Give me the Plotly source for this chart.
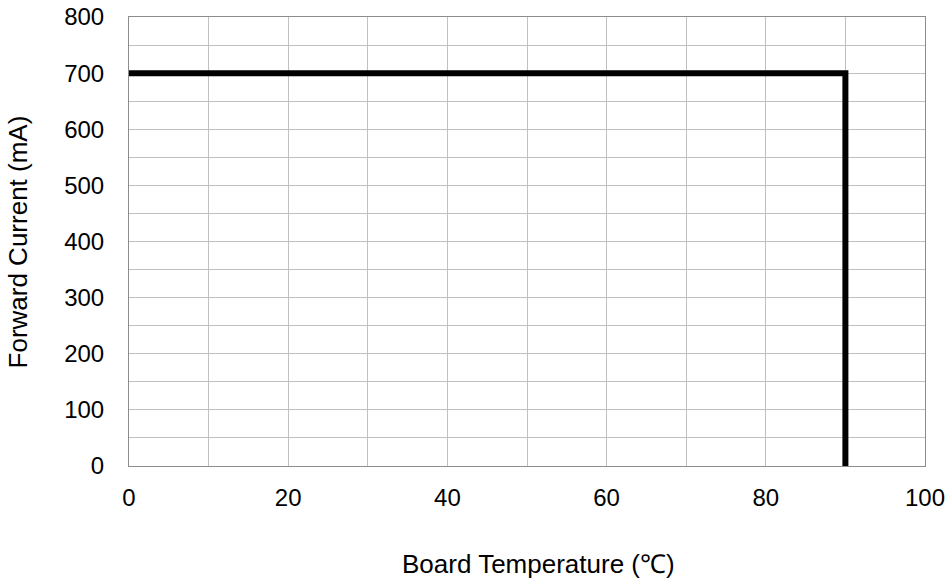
import plotly.graph_objects as go

temperature = [0, 90, 90]
current = [700, 700, 0]
x_ticks = [0, 20, 40, 60, 80, 100]
y_ticks = [0, 100, 200, 300, 400, 500, 600, 700, 800]
x_title = "Board Temperature (℃)"
y_title = "Forward Current (mA)"

fig = go.Figure()
fig.add_trace(go.Scatter(x=temperature, y=current, mode="lines",
                         line=dict(color="black", width=6), cliponaxis=False,
                         showlegend=False, hoverinfo="skip"))

tick_font = dict(family="Liberation Sans, Arial, sans-serif", size=24, color="black")
title_font = dict(family="Liberation Sans, Arial, sans-serif", size=26, color="black")
fig.update_layout(
    width=952, height=579,
    margin=dict(l=129, r=27, t=17, b=113, autoexpand=False),
    plot_bgcolor="white", paper_bgcolor="white",
    font=tick_font,
    xaxis=dict(range=[0, 100], tickvals=x_ticks, ticks="", showgrid=True,
               gridcolor="#c0c0c0", gridwidth=1, tickfont=tick_font,
               ticklabelstandoff=10, ticklabeloverflow="allow",
               minor=dict(dtick=10, showgrid=True, gridcolor="#c0c0c0", gridwidth=1),
               showline=True, linecolor="#8c8c8c", linewidth=1, mirror=True,
               zeroline=False, automargin=False),
    yaxis=dict(range=[0, 800], tickvals=y_ticks, ticks="", showgrid=True,
               gridcolor="#c0c0c0", gridwidth=1, tickfont=tick_font,
               ticklabelstandoff=19, ticklabeloverflow="allow",
               minor=dict(dtick=50, showgrid=True, gridcolor="#c0c0c0", gridwidth=1),
               showline=True, linecolor="#8c8c8c", linewidth=1, mirror=True,
               zeroline=False, automargin=False),
    annotations=[
        dict(text=x_title, xref="paper", yref="paper", x=0.515, y=-0.218,
             xanchor="center", yanchor="middle", showarrow=False, font=title_font),
        dict(text=y_title, xref="paper", yref="paper", x=-0.1395, y=0.5,
             xanchor="center", yanchor="middle", textangle=-90, showarrow=False,
             font=title_font),
    ],
)
fig.write_html("out.html", config={"displayModeBar": False},
               post_script="document.body.style.margin='0';")
